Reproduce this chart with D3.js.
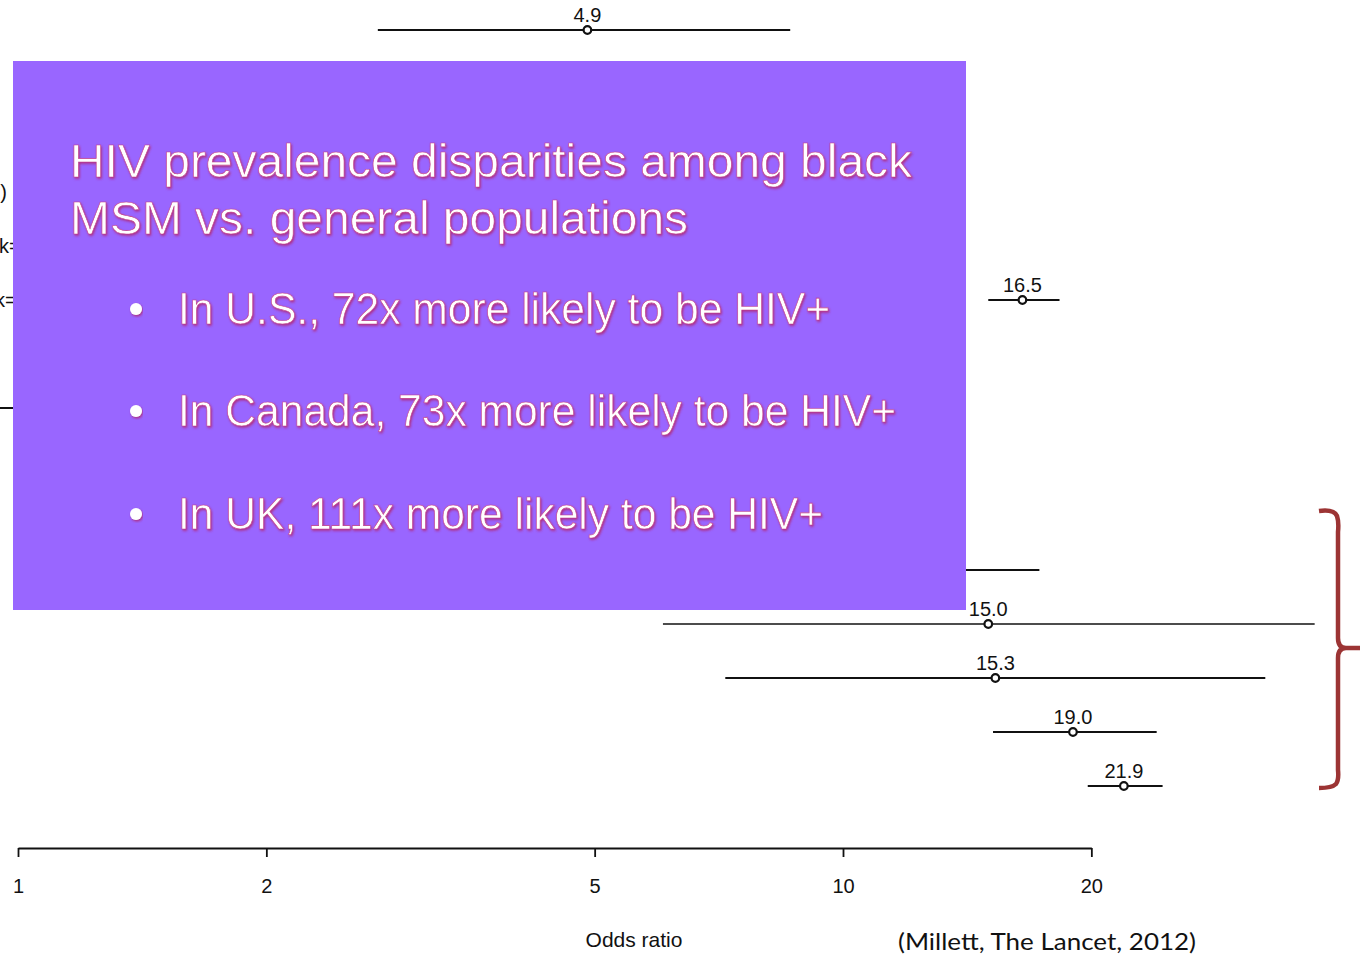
<!DOCTYPE html>
<html>
<head>
<meta charset="utf-8">
<script src="https://cdn.jsdelivr.net/npm/d3@7"></script>
<style>
  html, body { margin: 0; padding: 0; background: #fff; }
  svg { display: block; }
</style>
</head>
<body>
<svg id="chart" width="1365" height="955"></svg>
<script>
// Forest plot rows (index = row position from top)
const rowIndex   = [0, 5, 7, 10, 11, 12, 13, 14];
const estimates  = [4.9, 16.5, 2.5, 9.0, 15.0, 15.3, 19.0, 21.9];
const lowerCI    = [2.73, 15.0, 0.9, 4.5, 6.05, 7.2, 15.2, 19.8];
const upperCI    = [8.63, 18.3, 6.0, 17.3, 37.3, 32.5, 24.0, 24.4];
const estLabels  = ["4.9", "16.5", "", "", "15.0", "15.3", "19.0", "21.9"];
const thinRows   = [11];

// Row labels on the left margin (mostly cut off by the page edge)
const labelRows  = [3, 4, 5];
const labelTexts = ["vs. general population)", "k=5)", "k=4)"];

const axisTicks  = [1, 2, 5, 10, 20];
const rowCount   = 15;

const titleLines = ["HIV prevalence disparities among black", "MSM vs. general populations"];
const bullets    = [
  "In U.S., 72x more likely to be HIV+",
  "In Canada, 73x more likely to be HIV+",
  "In UK, 111x more likely to be HIV+"
];
const citation   = "(Millett, The Lancet, 2012)";

const svg = d3.select("#chart");
const font = "'Liberation Sans', Arial, sans-serif";

// Log-scaled odds ratio axis
const x = d3.scaleLog().domain([1, 10]).range([18, 843]);
const y = d3.scalePoint().domain(d3.range(rowCount)).range([30, 786]);

const rows = rowIndex.map((r, i) => ({
  row: r, est: estimates[i], lo: lowerCI[i], hi: upperCI[i], label: estLabels[i],
  thin: thinRows.includes(r)
}));

const plot = svg.append("g");

plot.selectAll("line.ci").data(rows).join("line")
  .attr("class", "ci")
  .attr("x1", d => Math.max(-5, x(d.lo)))
  .attr("x2", d => x(d.hi))
  .attr("y1", d => y(d.row))
  .attr("y2", d => y(d.row))
  .attr("stroke", "#111")
  .attr("stroke-width", d => d.thin ? 1.3 : 2.2);

plot.selectAll("circle.pt").data(rows).join("circle")
  .attr("class", "pt")
  .attr("cx", d => x(d.est))
  .attr("cy", d => y(d.row))
  .attr("r", 3.8)
  .attr("fill", "#fff")
  .attr("stroke", "#111")
  .attr("stroke-width", 2.2);

plot.selectAll("text.val").data(rows.filter(d => d.label)).join("text")
  .attr("class", "val")
  .attr("x", d => x(d.est))
  .attr("y", d => y(d.row) - 8)
  .attr("text-anchor", "middle")
  .attr("font-family", font)
  .attr("font-size", 20)
  .attr("fill", "#111")
  .text(d => d.label);

// Left-margin row labels
plot.selectAll("text.rowlab").data(labelRows).join("text")
  .attr("class", "rowlab")
  .attr("x", (d, i) => i === 0 ? 7 : (i === 1 ? -1 : -5))
  .attr("y", d => y(d) + 7)
  .attr("text-anchor", (d, i) => i === 0 ? "end" : "start")
  .attr("font-family", font)
  .attr("font-size", 20)
  .attr("fill", "#111")
  .text((d, i) => labelTexts[i]);

// Bottom axis
const axisScale = x.copy().domain([1, 20]).range([x(1), x(20)]);
const axisG = svg.append("g")
  .attr("transform", "translate(0,848)")
  .call(d3.axisBottom(axisScale)
    .tickValues(axisTicks)
    .tickFormat(d3.format("d"))
    .tickSize(9)
    .tickSizeOuter(0));
axisG.select(".domain").attr("stroke", "#111").attr("stroke-width", 2.2);
axisG.selectAll(".tick line").attr("stroke", "#111").attr("stroke-width", 1.8);
axisG.selectAll(".tick text")
  .attr("y", 45).attr("dy", 0)
  .attr("font-family", font)
  .attr("font-size", 20)
  .attr("fill", "#111");

svg.append("text")
  .attr("x", 634).attr("y", 947)
  .attr("text-anchor", "middle")
  .attr("font-family", font)
  .attr("font-size", 21)
  .attr("fill", "#111")
  .text("Odds ratio");

svg.append("text")
  .attr("x", 898).attr("y", 950)
  .attr("font-family", "Lato, 'Open Sans', sans-serif")
  .attr("font-size", 24)
  .attr("fill", "#111")
  .attr("textLength", 298)
  .attr("lengthAdjust", "spacingAndGlyphs")
  .text(citation);

// Curly bracket grouping the lower rows
svg.append("path")
  .attr("d", "M1319,511 Q1334,509 1337,516 Q1339,522 1338,532 L1338,638 Q1338,648 1346,648 L1360,648 M1346,648 Q1338,648 1338,658 L1338,770 Q1339,780 1336,784 Q1332,788 1319,788")
  .attr("fill", "none")
  .attr("stroke", "#9c3434")
  .attr("stroke-width", 4.5)
  .attr("stroke-linecap", "butt");

// Overlay text box
const defs = svg.append("defs");
const glow = defs.append("filter").attr("id", "glow")
  .attr("x", "-5%").attr("y", "-20%").attr("width", "110%").attr("height", "140%");
glow.append("feDropShadow")
  .attr("dx", 1).attr("dy", 1.5).attr("stdDeviation", 1.2)
  .attr("flood-color", "#b02a78").attr("flood-opacity", 0.9);

svg.append("rect")
  .attr("x", 13).attr("y", 61)
  .attr("width", 953).attr("height", 549)
  .attr("fill", "#9966ff");

const titleWidths = [842, 618];
svg.selectAll("text.title").data(titleLines).join("text")
  .attr("class", "title")
  .attr("x", 70)
  .attr("y", (d, i) => 177 + i * 57)
  .attr("font-family", font)
  .attr("font-size", 47)
  .attr("fill", "#fff")
  .attr("stroke", "#c2408a")
  .attr("stroke-width", 0.6)
  .attr("filter", "url(#glow)")
  .attr("textLength", (d, i) => titleWidths[i])
  .attr("lengthAdjust", "spacingAndGlyphs")
  .text(d => d);

const bulletWidths = [652, 718, 645];
const bulletY = [324, 426, 529];
svg.selectAll("circle.bullet").data(bullets).join("circle")
  .attr("class", "bullet")
  .attr("cx", 136)
  .attr("cy", (d, i) => bulletY[i] - 15)
  .attr("r", 6)
  .attr("fill", "#fff")
  .attr("filter", "url(#glow)");

svg.selectAll("text.bullet").data(bullets).join("text")
  .attr("class", "bullet")
  .attr("x", 178)
  .attr("y", (d, i) => bulletY[i])
  .attr("font-family", font)
  .attr("font-size", 44)
  .attr("fill", "#fff")
  .attr("stroke", "#c2408a")
  .attr("stroke-width", 0.6)
  .attr("filter", "url(#glow)")
  .attr("textLength", (d, i) => bulletWidths[i])
  .attr("lengthAdjust", "spacingAndGlyphs")
  .text(d => d);
</script>
</body>
</html>
